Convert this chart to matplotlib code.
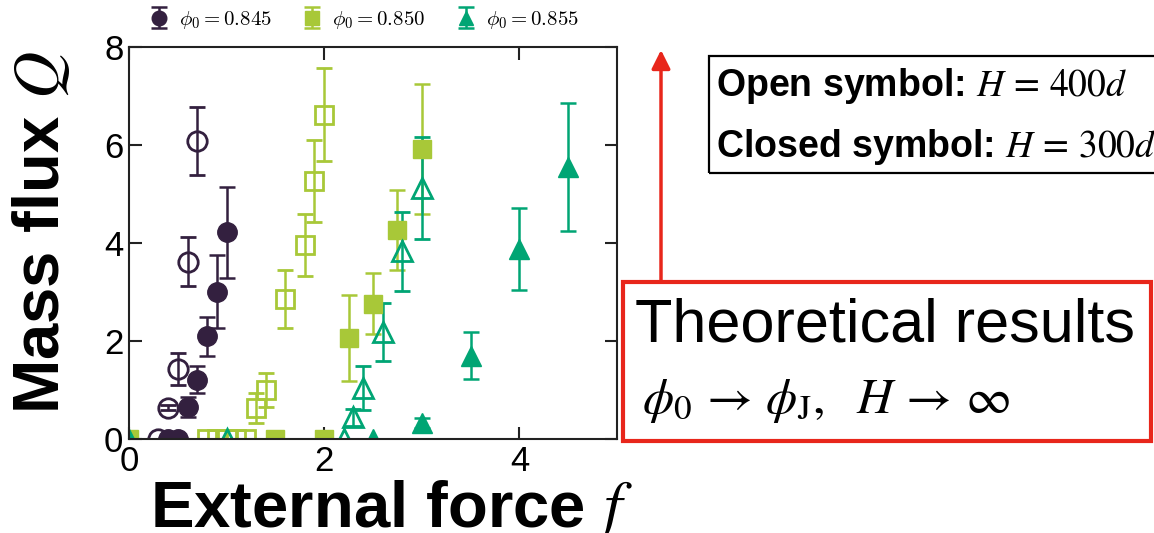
import matplotlib
matplotlib.use('Agg')
import matplotlib.pyplot as plt
from matplotlib.patches import Rectangle

plt.rcParams['font.family'] = ['Liberation Sans', 'DejaVu Sans']
plt.rcParams['mathtext.fontset'] = 'cm'

# phi0 = 0.845 (purple)
x845_open = [0.3, 0.4, 0.5, 0.6, 0.7]
q845_open = [0.0, 0.64, 1.43, 3.62, 6.08]
e845_open = [0.0, 0.05, 0.33, 0.50, 0.70]
x845_closed = [0.4, 0.5, 0.6, 0.7, 0.8, 0.9, 1.0]
q845_closed = [0.0, 0.0, 0.65, 1.21, 2.10, 3.01, 4.22]
e845_closed = [0.0, 0.0, 0.20, 0.27, 0.40, 0.75, 0.93]

# phi0 = 0.850 (light green)
x850_open = [0.8, 0.9, 1.0, 1.1, 1.2, 1.3, 1.4, 1.6, 1.8, 1.9, 2.0]
q850_open = [0.0, 0.0, 0.0, 0.0, 0.0, 0.63, 1.00, 2.85, 3.96, 5.27, 6.62]
e850_open = [0.0, 0.0, 0.0, 0.0, 0.0, 0.30, 0.35, 0.59, 0.63, 0.84, 0.95]
x850_closed = [0.0, 1.5, 2.0, 2.25, 2.5, 2.75, 3.0]
q850_closed = [0.0, 0.0, 0.0, 2.06, 2.76, 4.26, 5.92]
e850_closed = [0.0, 0.0, 0.0, 0.88, 0.62, 0.82, 1.32]

# phi0 = 0.855 (teal)
x855_open = [1.0, 2.2, 2.3, 2.4, 2.6, 2.8, 3.0]
q855_open = [0.0, 0.0, 0.44, 1.05, 2.18, 3.83, 5.12]
e855_open = [0.0, 0.0, 0.17, 0.45, 0.59, 0.80, 1.04]
x855_closed = [0.0, 2.5, 3.0, 3.5, 4.0, 4.5]
q855_closed = [0.0, 0.0, 0.32, 1.70, 3.88, 5.55]
e855_closed = [0.0, 0.0, 0.10, 0.48, 0.84, 1.30]

c845 = '#33203f'
c850 = '#a8c838'
c855 = '#00a574'
red = '#e8261b'

W, H = 1154, 533
def fx(px):
    return px / W
def fy(py):
    return 1 - py / H

fig = plt.figure(figsize=(W / 100, H / 100), dpi=100)
ax = fig.add_axes([fx(129), fy(439), fx(617) - fx(129), fy(47) - fy(439)])

ms = 14
kw = dict(capsize=6, elinewidth=1.8, capthick=1.8, linestyle='none')

ax.errorbar(x845_open, q845_open, yerr=e845_open, marker='o', ms=ms, mfc='none',
            mec=c845, mew=2.0, color=c845, **kw)
h1 = ax.errorbar(x845_closed, q845_closed, yerr=e845_closed, marker='o', ms=ms,
                 color=c845, **kw)
ax.errorbar(x850_open, q850_open, yerr=e850_open, marker='s', ms=ms - 1, mfc='none',
            mec=c850, mew=2.0, color=c850, **kw)
h2 = ax.errorbar(x850_closed, q850_closed, yerr=e850_closed, marker='s', ms=ms - 1,
                 color=c850, **kw)
ax.errorbar(x855_open, q855_open, yerr=e855_open, marker='^', ms=ms, mfc='none',
            mec=c855, mew=2.0, color=c855, **kw)
h3 = ax.errorbar(x855_closed, q855_closed, yerr=e855_closed, marker='^', ms=ms,
                 color=c855, **kw)

ax.set_xlim(0, 5)
ax.set_ylim(0, 8)
ax.set_xticks([0, 2, 4])
ax.set_yticks([0, 2, 4, 6, 8])
ax.tick_params(direction='in', top=True, right=True, length=9, width=1.5,
               labelsize=25, pad=4, color='#222222')
for s in ax.spines.values():
    s.set_linewidth(1.5)
    s.set_color('#222222')

leg = ax.legend([h1, h2, h3], [r'$\phi_0 = 0.845$', r'$\phi_0 = 0.850$', r'$\phi_0 = 0.855$'],
                loc='center', bbox_to_anchor=(0.48, 1.069), ncol=3, frameon=False,
                fontsize=15, markerscale=0.75, handlelength=1.1, handletextpad=0.4,
                columnspacing=1.4, borderaxespad=0)

# axis labels
fig.text(fx(150), fy(527), r'External force $f$', fontsize=47, fontweight='bold',
         ha='left', va='baseline', math_fontfamily='stix', zorder=5,
         bbox=dict(facecolor='white', edgecolor='none', pad=1))
fig.text(fx(41), fy(232), r'Mass flux $Q$', fontsize=47, fontweight='bold',
         rotation=90, ha='center', va='center', math_fontfamily='stix')

# open/closed symbol box
fig.add_artist(Rectangle((fx(709), fy(173)), fx(1170) - fx(709), fy(56) - fy(173),
                         transform=fig.transFigure, facecolor='none', edgecolor='black',
                         linewidth=1.6))
fig.text(fx(716), fy(96), r'Open symbol: $H\,=\,400d$', fontsize=27, fontweight='bold',
         ha='left', va='baseline', math_fontfamily='stix')
fig.text(fx(716), fy(157), r'Closed symbol: $H\,=\,300d$', fontsize=27, fontweight='bold',
         ha='left', va='baseline', math_fontfamily='stix')

# theoretical results box
fig.add_artist(Rectangle((fx(623), fy(441)), fx(1151) - fx(623), fy(282) - fy(441),
                         transform=fig.transFigure, facecolor='none', edgecolor=red,
                         linewidth=3))
fig.text(fx(635), fy(341), 'Theoretical results', fontsize=44,
         ha='left', va='baseline')
fig.text(fx(642), fy(413), r'$\phi_0 \,\rightarrow\, \phi_{\rm J},\ \ H \,\rightarrow\, \infty$',
         fontsize=36, ha='left', va='baseline', math_fontfamily='stix')

ax.annotate('', xy=(fx(661), fy(50)), xytext=(fx(661), fy(282)),
            xycoords='figure fraction', textcoords='figure fraction',
            arrowprops=dict(arrowstyle='-|>', color=red, lw=2.5, mutation_scale=28,
                            shrinkA=0, shrinkB=0),
            annotation_clip=False)

fig.savefig('out.png', dpi=100)
